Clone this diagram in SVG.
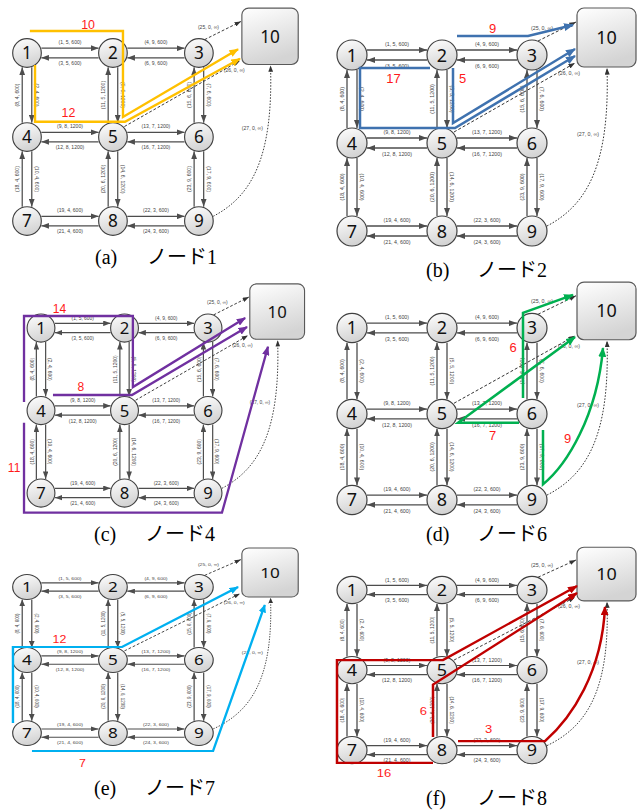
<svg xmlns="http://www.w3.org/2000/svg" width="643" height="810" viewBox="0 0 643 810">
<defs>
<style>
.e{fill:none;stroke:#4d4d4d;stroke-width:1.3;marker-end:url(#ah)}
.d{fill:none;stroke:#333;stroke-width:1;stroke-dasharray:3,2;marker-end:url(#ahd)}
.dt{fill:none;stroke:#333;stroke-width:1;stroke-dasharray:1.6,1.6;marker-end:url(#ahd)}
.el{font-family:"Liberation Sans",Arial,sans-serif;font-size:5.3px;fill:#444;text-anchor:middle}
.node circle{fill:url(#g);stroke:#404040;stroke-width:1.2}
.node rect{fill:url(#g);stroke:#595959;stroke-width:1.2}
.node text{font-family:"Noto Sans","DejaVu Sans",sans-serif;font-size:18px;text-anchor:middle;fill:#111}
.r{fill:none;stroke-width:2.5}
.rl{font-family:"Liberation Sans",Arial,sans-serif;font-size:13px;fill:#ff1a1a;stroke:none;text-anchor:middle}
.cap{font-family:"Liberation Serif","Noto Sans CJK JP",serif;font-size:20px;fill:#000}
</style>
<linearGradient id="g" x1="0" y1="0" x2="0.3" y2="1"><stop offset="0" stop-color="#ffffff"/><stop offset="1" stop-color="#d4d4d4"/></linearGradient>
<marker id="ah" viewBox="0 0 8 6" refX="8" refY="3" markerWidth="8" markerHeight="6" markerUnits="userSpaceOnUse" orient="auto"><path d="M0,0L8,3L0,6z" fill="#4d4d4d"/></marker>
<marker id="ahd" viewBox="0 0 8 6" refX="8" refY="3" markerWidth="7" markerHeight="5" markerUnits="userSpaceOnUse" orient="auto"><path d="M0,0L8,3L0,6z" fill="#333"/></marker>
<marker id="mo" viewBox="0 0 10 8" refX="9" refY="4" markerWidth="4" markerHeight="3.2" orient="auto"><path d="M0,0L10,4L0,8z" fill="#ffc000"/></marker>
<marker id="mb" viewBox="0 0 10 8" refX="9" refY="4" markerWidth="4" markerHeight="3.2" orient="auto"><path d="M0,0L10,4L0,8z" fill="#3f72af"/></marker>
<marker id="mp" viewBox="0 0 10 8" refX="9" refY="4" markerWidth="4" markerHeight="3.2" orient="auto"><path d="M0,0L10,4L0,8z" fill="#7030a0"/></marker>
<marker id="mg" viewBox="0 0 10 8" refX="9" refY="4" markerWidth="4" markerHeight="3.2" orient="auto"><path d="M0,0L10,4L0,8z" fill="#00b050"/></marker>
<marker id="mc" viewBox="0 0 10 8" refX="9" refY="4" markerWidth="4" markerHeight="3.2" orient="auto"><path d="M0,0L10,4L0,8z" fill="#00b0f0"/></marker>
<marker id="mr" viewBox="0 0 10 8" refX="9" refY="4" markerWidth="4" markerHeight="3.2" orient="auto"><path d="M0,0L10,4L0,8z" fill="#c00000"/></marker>
<g id="edges">
<path class="e" d="M15,-5H75"/><path class="e" d="M75,5H15"/><path class="e" d="M105,-5H165"/><path class="e" d="M165,5H105"/>
<path class="e" d="M15,83H75"/><path class="e" d="M75,93H15"/><path class="e" d="M105,83H165"/><path class="e" d="M165,93H105"/>
<path class="e" d="M15,171H75"/><path class="e" d="M75,181H15"/><path class="e" d="M105,171H165"/><path class="e" d="M165,181H105"/>
<path class="e" d="M-5,73V15"/><path class="e" d="M5,15V73"/><path class="e" d="M-5,161V103"/><path class="e" d="M5,103V161"/>
<path class="e" d="M85,73V15"/><path class="e" d="M95,15V73"/><path class="e" d="M85,161V103"/><path class="e" d="M95,103V161"/>
<path class="e" d="M175,73V15"/><path class="e" d="M185,15V73"/><path class="e" d="M175,161V103"/><path class="e" d="M185,103V161"/>
<path class="d" d="M186,-14L224,-33"/><path class="d" d="M102,77L223,8"/><path class="dt" d="M195,171C235,150 258,110 255,13"/>
</g>
</defs>
<rect width="643" height="810" fill="#fff"/>

<!-- Panel a -->
<g id="panel-a" transform="translate(27,53) scale(0.955)">
<g id="a-connectors"><use href="#edges"/>
<text class="el" x="45" y="-9">(1, 5, 600)</text><text class="el" x="45" y="13">(3, 5, 600)</text><text class="el" x="135" y="-9">(4, 9, 600)</text><text class="el" x="135" y="13">(6, 9, 600)</text>
<text class="el" x="45" y="79">(9, 8, 1200)</text><text class="el" x="45" y="101">(12, 8, 1200)</text><text class="el" x="135" y="79">(13, 7, 1200)</text><text class="el" x="135" y="101">(16, 7, 1200)</text>
<text class="el" x="45" y="167">(19, 4, 600)</text><text class="el" x="45" y="189">(21, 4, 600)</text><text class="el" x="135" y="167">(22, 3, 600)</text><text class="el" x="135" y="189">(24, 3, 600)</text>
<text class="el" transform="translate(-8,44) rotate(-90)">(8, 4, 600)</text><text class="el" transform="translate(8,44) rotate(90)">(2, 4, 600)</text><text class="el" transform="translate(-8,132) rotate(-90)">(18, 4, 600)</text><text class="el" transform="translate(8,132) rotate(90)">(10, 4, 600)</text>
<text class="el" transform="translate(82,44) rotate(-90)">(11, 5, 1200)</text><text class="el" transform="translate(98,44) rotate(90)">(5, 5, 1200)</text><text class="el" transform="translate(82,132) rotate(-90)">(20, 6, 1200)</text><text class="el" transform="translate(98,132) rotate(90)">(14, 6, 1200)</text>
<text class="el" transform="translate(172,44) rotate(-90)">(15, 6, 600)</text><text class="el" transform="translate(188,44) rotate(90)">(7, 6, 600)</text><text class="el" transform="translate(172,132) rotate(-90)">(23, 9, 600)</text><text class="el" transform="translate(188,132) rotate(90)">(17, 9, 600)</text>
<text class="el" x="190" y="-25.5">(25, 0, ∞)</text><text class="el" x="217" y="20">(26, 0, ∞)</text><text class="el" x="236" y="81">(27, 0, ∞)</text>
</g>
<g id="a-n1" class="node"><circle r="15"/><text y="6.5">1</text></g>
<g id="a-n2" class="node" transform="translate(90,0)"><circle r="15"/><text y="6.5">2</text></g>
<g id="a-n3" class="node" transform="translate(180,0)"><circle r="15"/><text y="6.5">3</text></g>
<g id="a-n4" class="node" transform="translate(0,88)"><circle r="15"/><text y="6.5">4</text></g>
<g id="a-n5" class="node" transform="translate(90,88)"><circle r="15"/><text y="6.5">5</text></g>
<g id="a-n6" class="node" transform="translate(180,88)"><circle r="15"/><text y="6.5">6</text></g>
<g id="a-n7" class="node" transform="translate(0,176)"><circle r="15"/><text y="6.5">7</text></g>
<g id="a-n8" class="node" transform="translate(90,176)"><circle r="15"/><text y="6.5">8</text></g>
<g id="a-n9" class="node" transform="translate(180,176)"><circle r="15"/><text y="6.5">9</text></g>
<g id="a-n10" class="node"><rect x="225" y="-47" width="59" height="59" rx="7"/><text x="254.5" y="-11">10</text></g>
<g id="a-routes">
<path class="r" stroke="#ffc000" d="M3,-23H100.5V67L221,-4" marker-end="url(#mo)"/>
<path class="r" stroke="#ffc000" d="M8.4,12.6V72H102.6L223,6" marker-end="url(#mo)"/>
<text class="rl" x="64" y="-25">10</text><text class="rl" x="43.5" y="67">12</text>
</g>
</g>
<text class="cap" y="264"><tspan x="95">(a)</tspan><tspan x="147">ノード1</tspan></text>

<!-- Panel b -->
<g id="panel-b" transform="translate(352,55)">
<g id="b-connectors"><use href="#edges"/>
<text class="el" x="45" y="-9">(1, 5, 600)</text><text class="el" x="45" y="13">(3, 5, 600)</text><text class="el" x="135" y="-9">(4, 9, 600)</text><text class="el" x="135" y="13">(6, 9, 600)</text>
<text class="el" x="45" y="79">(9, 8, 1200)</text><text class="el" x="45" y="101">(12, 8, 1200)</text><text class="el" x="135" y="79">(13, 7, 1200)</text><text class="el" x="135" y="101">(16, 7, 1200)</text>
<text class="el" x="45" y="167">(19, 4, 600)</text><text class="el" x="45" y="189">(21, 4, 600)</text><text class="el" x="135" y="167">(22, 3, 600)</text><text class="el" x="135" y="189">(24, 3, 600)</text>
<text class="el" transform="translate(-8,44) rotate(-90)">(8, 4, 600)</text><text class="el" transform="translate(8,44) rotate(90)">(2, 4, 600)</text><text class="el" transform="translate(-8,132) rotate(-90)">(18, 4, 600)</text><text class="el" transform="translate(8,132) rotate(90)">(10, 4, 600)</text>
<text class="el" transform="translate(82,44) rotate(-90)">(11, 5, 1200)</text><text class="el" transform="translate(98,44) rotate(90)">(5, 5, 1200)</text><text class="el" transform="translate(82,132) rotate(-90)">(20, 6, 1200)</text><text class="el" transform="translate(98,132) rotate(90)">(14, 6, 1200)</text>
<text class="el" transform="translate(172,44) rotate(-90)">(15, 6, 600)</text><text class="el" transform="translate(188,44) rotate(90)">(7, 6, 600)</text><text class="el" transform="translate(172,132) rotate(-90)">(23, 9, 600)</text><text class="el" transform="translate(188,132) rotate(90)">(17, 9, 600)</text>
<text class="el" x="190" y="-25.5">(25, 0, ∞)</text><text class="el" x="217" y="20">(26, 0, ∞)</text><text class="el" x="236" y="81">(27, 0, ∞)</text>
</g>
<g id="b-n1" class="node"><circle r="15"/><text y="6.5">1</text></g>
<g id="b-n2" class="node" transform="translate(90,0)"><circle r="15"/><text y="6.5">2</text></g>
<g id="b-n3" class="node" transform="translate(180,0)"><circle r="15"/><text y="6.5">3</text></g>
<g id="b-n4" class="node" transform="translate(0,88)"><circle r="15"/><text y="6.5">4</text></g>
<g id="b-n5" class="node" transform="translate(90,88)"><circle r="15"/><text y="6.5">5</text></g>
<g id="b-n6" class="node" transform="translate(180,88)"><circle r="15"/><text y="6.5">6</text></g>
<g id="b-n7" class="node" transform="translate(0,176)"><circle r="15"/><text y="6.5">7</text></g>
<g id="b-n8" class="node" transform="translate(90,176)"><circle r="15"/><text y="6.5">8</text></g>
<g id="b-n9" class="node" transform="translate(180,176)"><circle r="15"/><text y="6.5">9</text></g>
<g id="b-n10" class="node"><rect x="225" y="-47" width="59" height="59" rx="7"/><text x="254.5" y="-11">10</text></g>
<g id="b-routes">
<path class="r" stroke="#3f72af" d="M105,-19H176L221,-30" marker-end="url(#mb)"/>
<path class="r" stroke="#3f72af" d="M101,13V68L223,-6" marker-end="url(#mb)"/>
<path class="r" stroke="#3f72af" d="M78,13H8V73H103L223,1" marker-end="url(#mb)"/>
<text class="rl" x="140.5" y="-22">9</text><text class="rl" x="110.5" y="28">5</text><text class="rl" x="41.5" y="28">17</text>
</g>
</g>
<text class="cap" y="277"><tspan x="426">(b)</tspan><tspan x="477">ノード2</tspan></text>

<!-- Panel c -->
<g id="panel-c" transform="translate(41,328) scale(0.928,0.9375)">
<g id="c-connectors"><use href="#edges"/>
<text class="el" x="45" y="-9">(1, 5, 600)</text><text class="el" x="45" y="13">(3, 5, 600)</text><text class="el" x="135" y="-9">(4, 9, 600)</text><text class="el" x="135" y="13">(6, 9, 600)</text>
<text class="el" x="45" y="79">(9, 8, 1200)</text><text class="el" x="45" y="101">(12, 8, 1200)</text><text class="el" x="135" y="79">(13, 7, 1200)</text><text class="el" x="135" y="101">(16, 7, 1200)</text>
<text class="el" x="45" y="167">(19, 4, 600)</text><text class="el" x="45" y="189">(21, 4, 600)</text><text class="el" x="135" y="167">(22, 3, 600)</text><text class="el" x="135" y="189">(24, 3, 600)</text>
<text class="el" transform="translate(-8,44) rotate(-90)">(8, 4, 600)</text><text class="el" transform="translate(8,44) rotate(90)">(2, 4, 600)</text><text class="el" transform="translate(-8,132) rotate(-90)">(18, 4, 600)</text><text class="el" transform="translate(8,132) rotate(90)">(10, 4, 600)</text>
<text class="el" transform="translate(82,44) rotate(-90)">(11, 5, 1200)</text><text class="el" transform="translate(98,44) rotate(90)">(5, 5, 1200)</text><text class="el" transform="translate(82,132) rotate(-90)">(20, 6, 1200)</text><text class="el" transform="translate(98,132) rotate(90)">(14, 6, 1200)</text>
<text class="el" transform="translate(172,44) rotate(-90)">(15, 6, 600)</text><text class="el" transform="translate(188,44) rotate(90)">(7, 6, 600)</text><text class="el" transform="translate(172,132) rotate(-90)">(23, 9, 600)</text><text class="el" transform="translate(188,132) rotate(90)">(17, 9, 600)</text>
<text class="el" x="190" y="-25.5">(25, 0, ∞)</text><text class="el" x="217" y="20">(26, 0, ∞)</text><text class="el" x="236" y="81">(27, 0, ∞)</text>
</g>
<g id="c-n1" class="node"><circle r="15"/><text y="6.5">1</text></g>
<g id="c-n2" class="node" transform="translate(90,0)"><circle r="15"/><text y="6.5">2</text></g>
<g id="c-n3" class="node" transform="translate(180,0)"><circle r="15"/><text y="6.5">3</text></g>
<g id="c-n4" class="node" transform="translate(0,88)"><circle r="15"/><text y="6.5">4</text></g>
<g id="c-n5" class="node" transform="translate(90,88)"><circle r="15"/><text y="6.5">5</text></g>
<g id="c-n6" class="node" transform="translate(180,88)"><circle r="15"/><text y="6.5">6</text></g>
<g id="c-n7" class="node" transform="translate(0,176)"><circle r="15"/><text y="6.5">7</text></g>
<g id="c-n8" class="node" transform="translate(90,176)"><circle r="15"/><text y="6.5">8</text></g>
<g id="c-n9" class="node" transform="translate(180,176)"><circle r="15"/><text y="6.5">9</text></g>
<g id="c-n10" class="node"><rect x="225" y="-47" width="59" height="59" rx="7"/><text x="254.5" y="-11">10</text></g>
<g id="c-routes">
<path class="r" stroke="#7030a0" d="M-18.3,79V-12.8H99V63L220,-10.7" marker-end="url(#mp)"/>
<path class="r" stroke="#7030a0" d="M12.9,71.5H98L222,-1" marker-end="url(#mp)"/>
<path class="r" stroke="#7030a0" d="M-18.3,101V197H195L244.6,20" marker-end="url(#mp)"/>
<text class="rl" x="20" y="-16">14</text><text class="rl" x="43" y="67">8</text><text class="rl" x="-29" y="153.6">11</text>
</g>
</g>
<text class="cap" y="541"><tspan x="94">(c)</tspan><tspan x="145">ノード4</tspan></text>

<!-- Panel d -->
<g id="panel-d" transform="translate(352,328) scale(1,0.977)">
<g id="d-connectors"><use href="#edges"/>
<text class="el" x="45" y="-9">(1, 5, 600)</text><text class="el" x="45" y="13">(3, 5, 600)</text><text class="el" x="135" y="-9">(4, 9, 600)</text><text class="el" x="135" y="13">(6, 9, 600)</text>
<text class="el" x="45" y="79">(9, 8, 1200)</text><text class="el" x="45" y="101">(12, 8, 1200)</text><text class="el" x="135" y="79">(13, 7, 1200)</text><text class="el" x="135" y="101">(16, 7, 1200)</text>
<text class="el" x="45" y="167">(19, 4, 600)</text><text class="el" x="45" y="189">(21, 4, 600)</text><text class="el" x="135" y="167">(22, 3, 600)</text><text class="el" x="135" y="189">(24, 3, 600)</text>
<text class="el" transform="translate(-8,44) rotate(-90)">(8, 4, 600)</text><text class="el" transform="translate(8,44) rotate(90)">(2, 4, 600)</text><text class="el" transform="translate(-8,132) rotate(-90)">(18, 4, 600)</text><text class="el" transform="translate(8,132) rotate(90)">(10, 4, 600)</text>
<text class="el" transform="translate(82,44) rotate(-90)">(11, 5, 1200)</text><text class="el" transform="translate(98,44) rotate(90)">(5, 5, 1200)</text><text class="el" transform="translate(82,132) rotate(-90)">(20, 6, 1200)</text><text class="el" transform="translate(98,132) rotate(90)">(14, 6, 1200)</text>
<text class="el" transform="translate(172,44) rotate(-90)">(15, 6, 600)</text><text class="el" transform="translate(188,44) rotate(90)">(7, 6, 600)</text><text class="el" transform="translate(172,132) rotate(-90)">(23, 9, 600)</text><text class="el" transform="translate(188,132) rotate(90)">(17, 9, 600)</text>
<text class="el" x="190" y="-25.5">(25, 0, ∞)</text><text class="el" x="217" y="20">(26, 0, ∞)</text><text class="el" x="236" y="81">(27, 0, ∞)</text>
</g>
<g id="d-n1" class="node"><circle r="15"/><text y="6.5">1</text></g>
<g id="d-n2" class="node" transform="translate(90,0)"><circle r="15"/><text y="6.5">2</text></g>
<g id="d-n3" class="node" transform="translate(180,0)"><circle r="15"/><text y="6.5">3</text></g>
<g id="d-n4" class="node" transform="translate(0,88)"><circle r="15"/><text y="6.5">4</text></g>
<g id="d-n5" class="node" transform="translate(90,88)"><circle r="15"/><text y="6.5">5</text></g>
<g id="d-n6" class="node" transform="translate(180,88)"><circle r="15"/><text y="6.5">6</text></g>
<g id="d-n7" class="node" transform="translate(0,176)"><circle r="15"/><text y="6.5">7</text></g>
<g id="d-n8" class="node" transform="translate(90,176)"><circle r="15"/><text y="6.5">8</text></g>
<g id="d-n9" class="node" transform="translate(180,176)"><circle r="15"/><text y="6.5">9</text></g>
<g id="d-n10" class="node"><rect x="225" y="-47" width="59" height="59" rx="7"/><text x="254.5" y="-11">10</text></g>
<g id="d-routes">
<path class="r" stroke="#00b050" d="M171,71.6V-15.4L221,-33.8" marker-end="url(#mg)"/>
<path class="r" stroke="#00b050" d="M167,97H106L223,9.2" marker-end="url(#mg)"/>
<path class="r" stroke="#00b050" d="M191,104.4V160C215,140 245,90 251,20.5" marker-end="url(#mg)"/>
<text class="rl" x="161" y="24.6">6</text><text class="rl" x="140.5" y="114.5">7</text><text class="rl" x="215.5" y="117.7">9</text>
</g>
</g>
<text class="cap" y="541"><tspan x="426">(d)</tspan><tspan x="477">ノード6</tspan></text>

<!-- Panel e -->
<g id="panel-e" transform="translate(27,587) scale(0.955,0.83)">
<g id="e-connectors"><use href="#edges"/>
<text class="el" x="45" y="-9">(1, 5, 600)</text><text class="el" x="45" y="13">(3, 5, 600)</text><text class="el" x="135" y="-9">(4, 9, 600)</text><text class="el" x="135" y="13">(6, 9, 600)</text>
<text class="el" x="45" y="79">(9, 8, 1200)</text><text class="el" x="45" y="101">(12, 8, 1200)</text><text class="el" x="135" y="79">(13, 7, 1200)</text><text class="el" x="135" y="101">(16, 7, 1200)</text>
<text class="el" x="45" y="167">(19, 4, 600)</text><text class="el" x="45" y="189">(21, 4, 600)</text><text class="el" x="135" y="167">(22, 3, 600)</text><text class="el" x="135" y="189">(24, 3, 600)</text>
<text class="el" transform="translate(-8,44) rotate(-90)">(8, 4, 600)</text><text class="el" transform="translate(8,44) rotate(90)">(2, 4, 600)</text><text class="el" transform="translate(-8,132) rotate(-90)">(18, 4, 600)</text><text class="el" transform="translate(8,132) rotate(90)">(10, 4, 600)</text>
<text class="el" transform="translate(82,44) rotate(-90)">(11, 5, 1200)</text><text class="el" transform="translate(98,44) rotate(90)">(5, 5, 1200)</text><text class="el" transform="translate(82,132) rotate(-90)">(20, 6, 1200)</text><text class="el" transform="translate(98,132) rotate(90)">(14, 6, 1200)</text>
<text class="el" transform="translate(172,44) rotate(-90)">(15, 6, 600)</text><text class="el" transform="translate(188,44) rotate(90)">(7, 6, 600)</text><text class="el" transform="translate(172,132) rotate(-90)">(23, 9, 600)</text><text class="el" transform="translate(188,132) rotate(90)">(17, 9, 600)</text>
<text class="el" x="190" y="-25.5">(25, 0, ∞)</text><text class="el" x="217" y="20">(26, 0, ∞)</text><text class="el" x="236" y="81">(27, 0, ∞)</text>
</g>
<g id="e-n1" class="node"><circle r="15"/><text y="6.5">1</text></g>
<g id="e-n2" class="node" transform="translate(90,0)"><circle r="15"/><text y="6.5">2</text></g>
<g id="e-n3" class="node" transform="translate(180,0)"><circle r="15"/><text y="6.5">3</text></g>
<g id="e-n4" class="node" transform="translate(0,88)"><circle r="15"/><text y="6.5">4</text></g>
<g id="e-n5" class="node" transform="translate(90,88)"><circle r="15"/><text y="6.5">5</text></g>
<g id="e-n6" class="node" transform="translate(180,88)"><circle r="15"/><text y="6.5">6</text></g>
<g id="e-n7" class="node" transform="translate(0,176)"><circle r="15"/><text y="6.5">7</text></g>
<g id="e-n8" class="node" transform="translate(90,176)"><circle r="15"/><text y="6.5">8</text></g>
<g id="e-n9" class="node" transform="translate(180,176)"><circle r="15"/><text y="6.5">9</text></g>
<g id="e-n10" class="node"><rect x="225" y="-47" width="59" height="59" rx="7"/><text x="254.5" y="-11">10</text></g>
<g id="e-routes">
<path class="r" stroke="#00b0f0" d="M-14.7,164V72.3H99.5L221,0" marker-end="url(#mc)"/>
<path class="r" stroke="#00b0f0" d="M5.2,197.6H194.8L249,21.7" marker-end="url(#mc)"/>
<text class="rl" x="34" y="67.5">12</text><text class="rl" x="58" y="217">7</text>
</g>
</g>
<text class="cap" y="795"><tspan x="94">(e)</tspan><tspan x="145">ノード7</tspan></text>

<!-- Panel f -->
<g id="panel-f" transform="translate(352,590) scale(1,0.91)">
<g id="f-connectors"><use href="#edges"/>
<text class="el" x="45" y="-9">(1, 5, 600)</text><text class="el" x="45" y="13">(3, 5, 600)</text><text class="el" x="135" y="-9">(4, 9, 600)</text><text class="el" x="135" y="13">(6, 9, 600)</text>
<text class="el" x="45" y="79">(9, 8, 1200)</text><text class="el" x="45" y="101">(12, 8, 1200)</text><text class="el" x="135" y="79">(13, 7, 1200)</text><text class="el" x="135" y="101">(16, 7, 1200)</text>
<text class="el" x="45" y="167">(19, 4, 600)</text><text class="el" x="45" y="189">(21, 4, 600)</text><text class="el" x="135" y="167">(22, 3, 600)</text><text class="el" x="135" y="189">(24, 3, 600)</text>
<text class="el" transform="translate(-8,44) rotate(-90)">(8, 4, 600)</text><text class="el" transform="translate(8,44) rotate(90)">(2, 4, 600)</text><text class="el" transform="translate(-8,132) rotate(-90)">(18, 4, 600)</text><text class="el" transform="translate(8,132) rotate(90)">(10, 4, 600)</text>
<text class="el" transform="translate(82,44) rotate(-90)">(11, 5, 1200)</text><text class="el" transform="translate(98,44) rotate(90)">(5, 5, 1200)</text><text class="el" transform="translate(82,132) rotate(-90)">(20, 6, 1200)</text><text class="el" transform="translate(98,132) rotate(90)">(14, 6, 1200)</text>
<text class="el" transform="translate(172,44) rotate(-90)">(15, 6, 600)</text><text class="el" transform="translate(188,44) rotate(90)">(7, 6, 600)</text><text class="el" transform="translate(172,132) rotate(-90)">(23, 9, 600)</text><text class="el" transform="translate(188,132) rotate(90)">(17, 9, 600)</text>
<text class="el" x="190" y="-25.5">(25, 0, ∞)</text><text class="el" x="217" y="20">(26, 0, ∞)</text><text class="el" x="236" y="81">(27, 0, ∞)</text>
</g>
<g id="f-n1" class="node"><circle r="15"/><text y="6.5">1</text></g>
<g id="f-n2" class="node" transform="translate(90,0)"><circle r="15"/><text y="6.5">2</text></g>
<g id="f-n3" class="node" transform="translate(180,0)"><circle r="15"/><text y="6.5">3</text></g>
<g id="f-n4" class="node" transform="translate(0,88)"><circle r="15"/><text y="6.5">4</text></g>
<g id="f-n5" class="node" transform="translate(90,88)"><circle r="15"/><text y="6.5">5</text></g>
<g id="f-n6" class="node" transform="translate(180,88)"><circle r="15"/><text y="6.5">6</text></g>
<g id="f-n7" class="node" transform="translate(0,176)"><circle r="15"/><text y="6.5">7</text></g>
<g id="f-n8" class="node" transform="translate(90,176)"><circle r="15"/><text y="6.5">8</text></g>
<g id="f-n9" class="node" transform="translate(180,176)"><circle r="15"/><text y="6.5">9</text></g>
<g id="f-n10" class="node"><rect x="225" y="-47" width="59" height="59" rx="7"/><text x="254.5" y="-11">10</text></g>
<g id="f-routes">
<path class="r" stroke="#c00000" d="M81,190H-15V77H91L225,-4.4" marker-end="url(#mr)"/>
<path class="r" stroke="#c00000" d="M81,161.5V104L225,3.3" marker-end="url(#mr)"/>
<path class="r" stroke="#c00000" d="M106,166H193C220,140 250,90 253,18.7" marker-end="url(#mr)"/>
<text class="rl" x="32" y="205.5">16</text><text class="rl" x="71.5" y="137">6</text><text class="rl" x="136.5" y="157.5">3</text>
</g>
</g>
<text class="cap" y="805"><tspan x="426">(f)</tspan><tspan x="477">ノード8</tspan></text>
</svg>
